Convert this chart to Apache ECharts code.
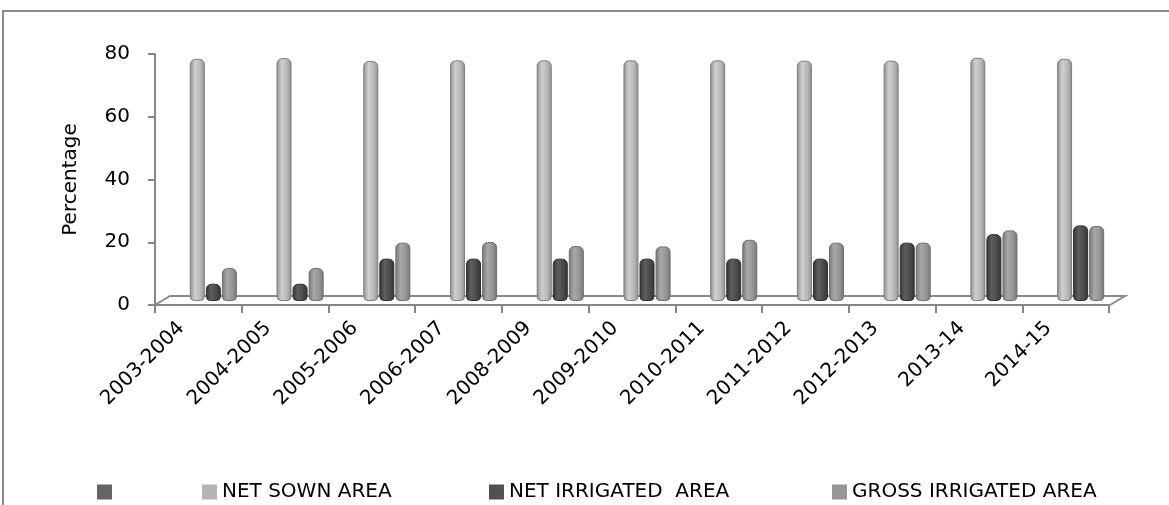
<!DOCTYPE html>
<html>
<head>
<meta charset="utf-8">
<script src="https://cdn.jsdelivr.net/npm/echarts@6/dist/echarts.min.js"></script>
<style>
  html, body { margin: 0; padding: 0; background: #fff; }
  #chart { width: 1169px; height: 505px; }
</style>
</head>
<body>
<div id="chart"></div>
<script>
// years on the x axis
const years = ['2003-2004', '2004-2005', '2005-2006', '2006-2007', '2008-2009', '2009-2010',
  '2010-2011', '2011-2012', '2012-2013', '2013-14', '2014-15']

// percentages
const netSown = [77.2, 77.4, 76.5, 76.7, 76.7, 76.7, 76.7, 76.6, 76.6, 77.5, 77.2]
const netIrrigated = [5.5, 5.5, 13.5, 13.5, 13.5, 13.5, 13.5, 13.5, 18.6, 21.3, 24.1]
const grossIrrigated = [10.5, 10.5, 18.6, 18.8, 17.5, 17.4, 19.5, 18.6, 18.6, 22.5, 23.9]

const yTicks = [0, 20, 40, 60, 80]

const FONT = 'DejaVu Sans'

// cylinder look: horizontal gradient from edge to highlight and back
const cylinder = (edge, light, mid) => new echarts.graphic.LinearGradient(0, 0, 1, 0, [
  { offset: 0, color: edge },
  { offset: 0.35, color: light },
  { offset: 0.7, color: mid },
  { offset: 1, color: edge }
])

const chart = echarts.init(document.getElementById('chart'))

const barSeries = (name, data, fill, border) => ({
  name: name,
  type: 'bar',
  xAxisIndex: 1,
  yAxisIndex: 1,
  data: data,
  barWidth: 15,
  barGap: '7%',
  itemStyle: {
    color: fill,
    borderColor: border,
    borderWidth: 1,
    borderRadius: [5, 5, 4, 4]
  },
  silent: true
})

const legendText = { fontFamily: FONT, fontSize: 20, color: '#000' }

// one legend per item so each sits where the original put it
const legendItem = (name, color, left) => ({
  data: [{ name: name, icon: 'rect', itemStyle: { color: color, borderWidth: 0 } }],
  left: left,
  top: 477,
  itemWidth: 15,
  itemHeight: 15,
  textStyle: legendText,
  selectedMode: false
})

chart.setOption({
  animation: false,
  backgroundColor: '#fff',
  textStyle: { fontFamily: FONT },
  legend: [
    legendItem(' ', '#656565', 92),
    legendItem('NET SOWN AREA', '#b4b4b4', 197),
    legendItem('NET IRRIGATED  AREA', '#505050', 484),
    legendItem('GROSS IRRIGATED AREA', '#969696', 827)
  ],
  grid: [
    // front plane: the visible axes
    { left: 155, right: 60, top: 54, bottom: 200 },
    // bars sit a little back and up in the 3D box
    { left: 170, right: 45, top: 50, bottom: 204 }
  ],
  xAxis: [
    {
      gridIndex: 0,
      type: 'category',
      data: years,
      axisLine: { lineStyle: { color: '#868686', width: 2 } },
      axisTick: { show: true, length: 8, lineStyle: { color: '#868686', width: 2 } },
      axisLabel: {
        rotate: 45,
        interval: 0,
        margin: 3,
        padding: [0, 24, 0, 0],
        fontFamily: FONT,
        fontSize: 20,
        color: '#000'
      }
    },
    { gridIndex: 1, type: 'category', data: years, show: false }
  ],
  yAxis: [
    {
      gridIndex: 0,
      type: 'value',
      min: yTicks[0],
      max: yTicks[yTicks.length - 1],
      interval: 20,
      name: 'Percentage',
      nameLocation: 'middle',
      nameGap: 74,
      nameRotate: 90,
      nameTextStyle: { fontFamily: FONT, fontSize: 20, color: '#000' },
      axisLine: { show: true, lineStyle: { color: '#868686', width: 2 } },
      axisTick: { show: true, length: 7, lineStyle: { color: '#868686', width: 2 } },
      axisLabel: { margin: 25, fontFamily: FONT, fontSize: 20, color: '#000' },
      splitLine: { show: false }
    },
    { gridIndex: 1, type: 'value', min: 0, max: 80, show: false }
  ],
  series: [
    { name: ' ', type: 'bar', xAxisIndex: 1, yAxisIndex: 1, data: [] },
    barSeries('NET SOWN AREA', netSown, cylinder('#8f8f8f', '#cfcfcf', '#b8b8b8'), '#7c7c7c'),
    barSeries('NET IRRIGATED  AREA', netIrrigated, cylinder('#333333', '#5e5e5e', '#4a4a4a'), '#2e2e2e'),
    barSeries('GROSS IRRIGATED AREA', grossIrrigated, cylinder('#767676', '#a8a8a8', '#959595'), '#6e6e6e')
  ],
  graphic: [
    // chart frame
    {
      type: 'rect',
      shape: { x: 3, y: 11, width: 1200, height: 600 },
      style: { fill: 'none', stroke: '#8c8c8c', lineWidth: 2 },
      silent: true
    },
    // 3D floor edge
    {
      type: 'polyline',
      shape: { points: [[155, 305], [170, 296], [1125, 296], [1110, 305]] },
      style: { fill: 'none', stroke: '#8a8a8a', lineWidth: 2 },
      silent: true,
      z: -1
    }
  ]
})
</script>
</body>
</html>
